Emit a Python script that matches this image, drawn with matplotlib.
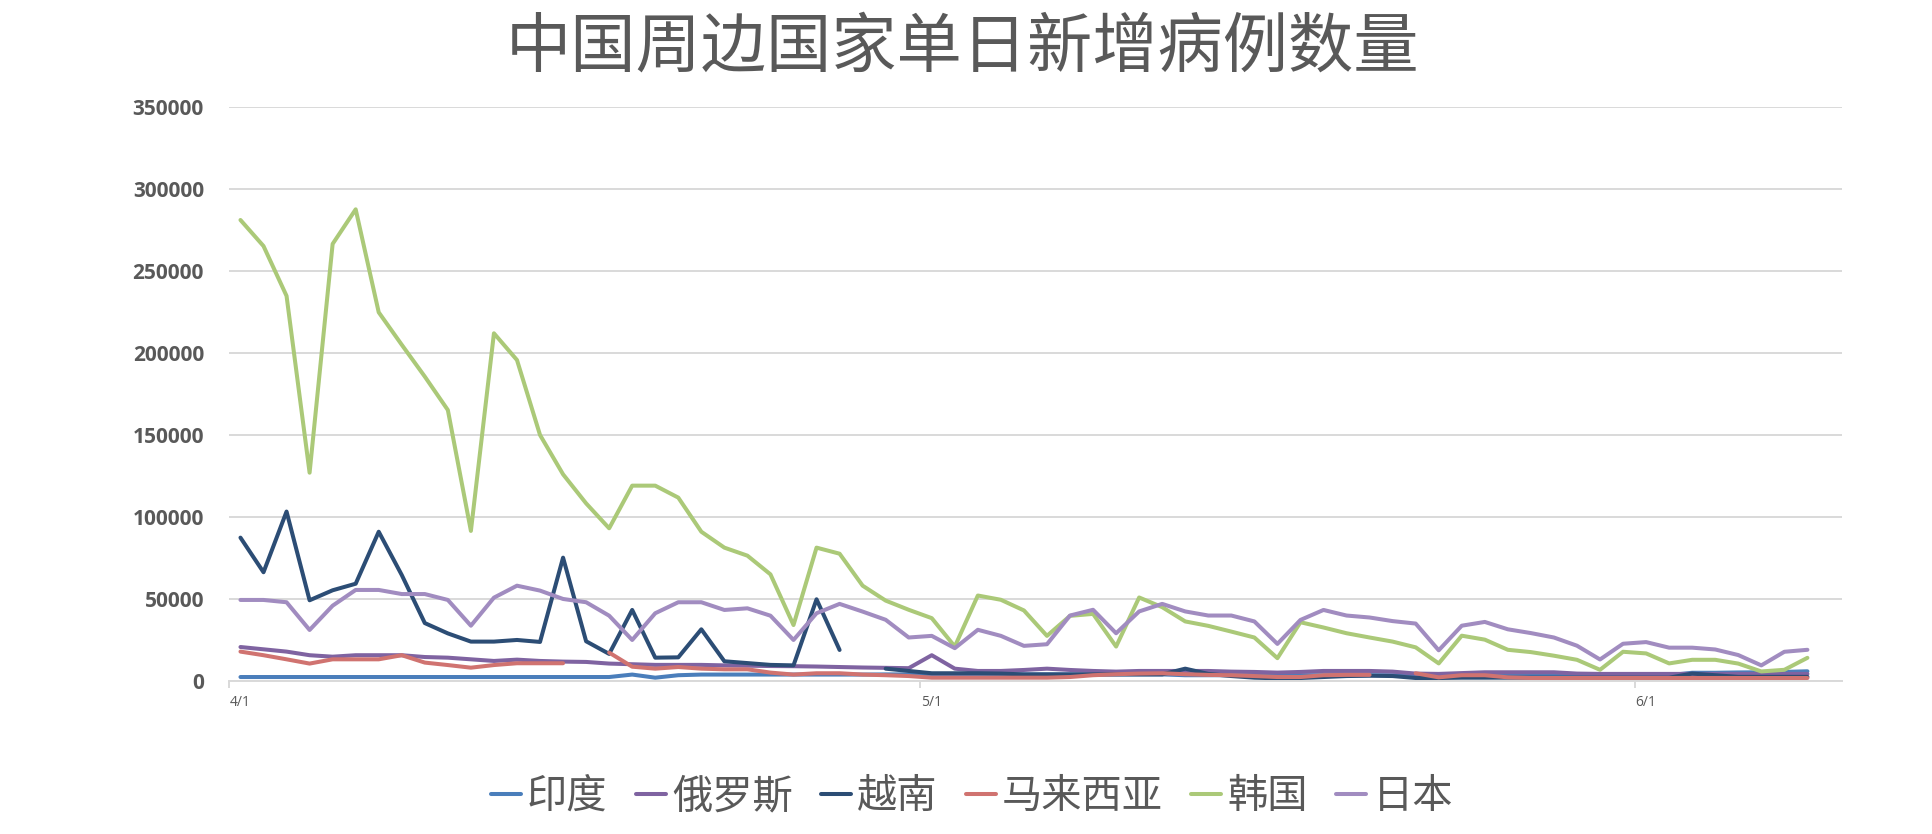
"""中国周边国家单日新增病例数量 (4/1 - 6/8)."""

import matplotlib
matplotlib.use("Agg")
import matplotlib.pyplot as plt
import numpy as np
import pandas as pd

nan = np.nan

dates = pd.date_range("2020-04-01", periods=69, freq="D")

india = [
    2400, 2400, 2400, 2400, 2400, 2400, 2400, 2400, 2400, 2400,
    2400, 2400, 2400, 2400, 2400, 2400, 2400, 3900, 2000, 3500,
    3900, 3900, 3900, 3900, 3900, 3900, 3900, 3900, 4000, 4000,
    4000, 4000, 4000, 4000, 4000, 4000, 4000, 4000, 4000, 4000,
    4000, 3500, 3500, 3500, 3500, 3500, 3500, 3500, 3500, 3500,
    3500, 3500, 3500, 3500, 3500, 3500, 3500, 3500, 3500, 3500,
    3500, 3500, 3500, 5000, 5000, 5200, 5300, 5500, 5900,
]
russia = [
    20700, 19300, 17900, 15700, 14800, 15700, 15700, 15700, 14600, 14200,
    13200, 12200, 13000, 12200, 11800, 11600, 10600, 10200, 9800, 9800,
    9800, 9500, 9300, 9100, 9000, 8800, 8500, 8200, 8000, 7800,
    15700, 7500, 6100, 6100, 6700, 7500, 6700, 6100, 5700, 6100,
    6100, 6100, 6100, 5700, 5500, 5100, 5500, 6100, 6100, 6100,
    5700, 4500, 4300, 4800, 5300, 5300, 5300, 5300, 4500, 4300,
    4300, 4300, 4300, 4300, 4300, 4300, 4300, 4300, 4300,
]
vietnam = [
    87400, 66300, 103300, 49200, 55300, 59300, 91000, 64600, 35300, 29000,
    24000, 24000, 25000, 23800, 75200, 24200, 16500, 43300, 14200, 14400,
    31500, 12000, 10900, 9800, 9500, 49800, 18900, nan, 7500, 6100,
    4700, 4700, 4700, 4500, 4000, 4000, 4000, 4000, 4000, 4000,
    4000, 7500, 4300, 3000, 2000, 1600, 1800, 2400, 3000, 3200,
    3000, 1800, 1800, 2000, 2000, 2000, 2000, 2000, 2000, 2000,
    2000, 2000, 2000, 4500, 3500, 2500, 2500, 2500, 2500,
]
malaysia = [
    17900, 15700, 13200, 10600, 13200, 13200, 13200, 15700, 11200, 9700,
    8100, 9700, 10800, 10800, 10800, nan, 17300, 8700, 7500, 8500,
    7500, 7100, 7100, 5100, 3900, 4700, 4700, 3900, 3500, 3000,
    2000, 2000, 2000, 2000, 2000, 2000, 2400, 3500, 4100, 4500,
    4700, 4100, 3700, 3500, 3000, 2400, 2400, 3500, 3700, 3700,
    nan, 4700, 2200, 3500, 3500, 2200, 1800, 1800, 1800, 1800,
    1800, 1800, 1800, 1800, 1800, 1800, 1800, 1800, 1800,
]
korea = [
    281100, 265200, 234800, 127000, 266500, 287600, 224800, 205000, 185600, 165200,
    91500, 212000, 195700, 150000, 126000, 108300, 93100, 119100, 119100, 111800,
    91000, 81300, 76400, 65000, 34100, 81300, 77600, 58100, 49000, 43400,
    38300, 21000, 52100, 49500, 43000, 27500, 39700, 40900, 21000, 50900,
    45000, 36300, 33600, 30100, 26500, 13900, 35800, 32600, 29100, 26500,
    24000, 20500, 10700, 27600, 25200, 19000, 17600, 15400, 12900, 6800,
    17800, 16800, 10700, 12900, 12900, 10600, 5800, 6800, 14100,
]
japan = [
    49400, 49400, 48000, 31100, 45900, 55500, 55500, 53000, 53000, 49400,
    33700, 50800, 58100, 55100, 50000, 48000, 39800, 25000, 41300, 48000,
    48000, 43300, 44300, 39800, 25000, 41300, 47000, 42300, 37300, 26500,
    27500, 20000, 31200, 27500, 21400, 22400, 39900, 43400, 29100, 42400,
    47000, 42400, 39900, 39900, 36300, 22600, 37200, 43300, 39900, 38700,
    36500, 35000, 18700, 33700, 36000, 31500, 29200, 26500, 21500, 13100,
    22700, 23700, 20300, 20300, 19200, 15800, 9500, 17800, 19000,
]

names = ["印度", "俄罗斯", "越南", "马来西亚", "韩国", "日本"]
colors = ["#4a7ebb", "#7f63a1", "#2c4d75", "#d07370", "#abc978", "#a18cc0"]
series = [india, russia, vietnam, malaysia, korea, japan]

TEXT = "#595959"
GRID = "#d9d9d9"


def main():
    plt.rcParams["font.family"] = ["Noto Sans CJK SC", "DejaVu Sans"]

    fig = plt.figure(figsize=(19.32, 8.34), dpi=100)
    ax = fig.add_axes([0.1185, 0.1835, 0.9534 - 0.1185, 0.8717 - 0.1835])

    x = np.arange(len(dates))
    for name, color, vals in zip(names, colors, series):
        ax.plot(x, vals, color=color, lw=2.9, label=name,
                solid_joinstyle="round", solid_capstyle="round")

    ax.set_xlim(-0.5, len(dates) + 0.5)
    ax.set_ylim(0, 350000)
    ax.set_yticks(np.arange(0, 350001, 50000))
    ax.set_yticklabels([f"{v:d}" for v in range(0, 350001, 50000)],
                       fontfamily="Open Sans", fontweight="bold",
                       fontsize=15, color=TEXT)
    ax.tick_params(axis="y", length=0, pad=18)
    ax.grid(axis="y", color=GRID, lw=1.4)
    ax.set_axisbelow(True)

    # month starts as labels, tick marks sit between categories
    firsts = [i for i, d in enumerate(dates) if d.day == 1]
    ax.set_xticks(firsts)
    ax.set_xticklabels([f"{dates[i].month}/{dates[i].day}" for i in firsts],
                       fontfamily="Open Sans", fontsize=10, color=TEXT)
    ax.set_xticks([i - 0.5 for i in firsts], minor=True)
    ax.tick_params(axis="x", which="major", length=0, pad=10)
    ax.tick_params(axis="x", which="minor", length=5, color=GRID, width=1.4)

    for side in ["top", "right", "left"]:
        ax.spines[side].set_visible(False)
    ax.spines["bottom"].set_color(GRID)
    ax.spines["bottom"].set_linewidth(1.4)

    fig.text(0.498, 0.942, "中国周边国家单日新增病例数量", ha="center", va="center",
             fontsize=47, color=TEXT)

    leg = fig.legend(loc="center", bbox_to_anchor=(0.503, 0.045), ncol=6,
                     frameon=False, fontsize=29, handlelength=0.75,
                     handletextpad=0.15, columnspacing=0.7)
    for t in leg.get_texts():
        t.set_color(TEXT)

    fig.savefig("out.png", dpi=100)
    plt.close(fig)


if __name__ == "__main__":
    main()
